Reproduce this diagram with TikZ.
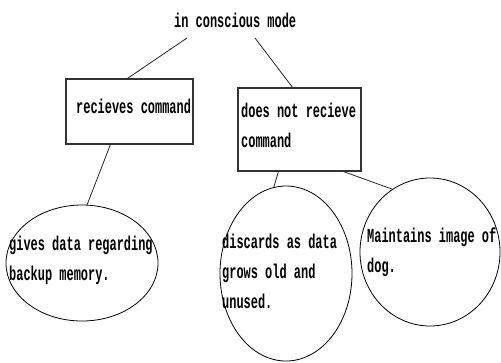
\documentclass[tikz,border=0pt]{standalone}
\usepackage{fontspec}
\newfontfamily\condmono{Liberation Mono}[FakeStretch=0.6]
\usetikzlibrary{shapes.geometric}
\begin{document}
\begin{tikzpicture}[x=1bp,y=-1bp,
  label text/.style={anchor=base west,inner sep=0pt,align=left,
    font=\condmono\bfseries\fontsize{20}{30}\selectfont},
  cmdbox/.style={draw=black!80,line width=1.2bp,inner sep=0pt},
  bubble/.style={draw=black,line width=0.8bp,ellipse,inner sep=0pt},
  link/.style={draw=black!85,line width=0.8bp}]
\useasboundingbox (0,0) rectangle (501,362);

% title and the two command boxes (text nodes are placed by the baseline of their last line)
\node[label text] (title) at (174,27) {in conscious mode};
\node[cmdbox,minimum width=127bp,minimum height=65bp] (recv) at (129.5,111.5) {};
\node[label text] (recvtxt) at (76,113) {recieves command};
\node[cmdbox,minimum width=123bp,minimum height=83bp] (norecv) at (299.5,129.5) {};
\node[label text] (norecvtxt) at (241,147) {does not recieve\\command};

% outcome bubbles
\node[bubble,minimum width=152bp,minimum height=116bp] (backup) at (82,263) {};
\node[label text] (backuptxt) at (9,280) {gives data regarding\\backup memory.};
\node[bubble,minimum width=132bp,minimum height=175bp] (discard) at (286,273.5) {};
\node[label text] (discardtxt) at (222,308) {discards as data\\grows old and\\unused.};
\node[bubble,minimum width=140bp,minimum height=148bp] (dog) at (430,252) {};
\node[label text] (dogtxt) at (367,272) {Maintains image of\\dog.};

% free ends of the lines under the title
\coordinate (titleL) at (187,38);
\coordinate (titleR) at (255,38);

% connectors
\draw[link] (titleL) -- ([xshift=-2bp]recv.north);
\draw[link] (titleR) -- ([xshift=-7bp]norecv.north);
\draw[link] ([xshift=45bp]recv.south west) -- (backup.85);
\draw[link] ([xshift=41bp]norecv.south west) -- (discard.98);
\draw[link] ([xshift=-18bp]norecv.south east) -- (dog.121);
\end{tikzpicture}
\end{document}
